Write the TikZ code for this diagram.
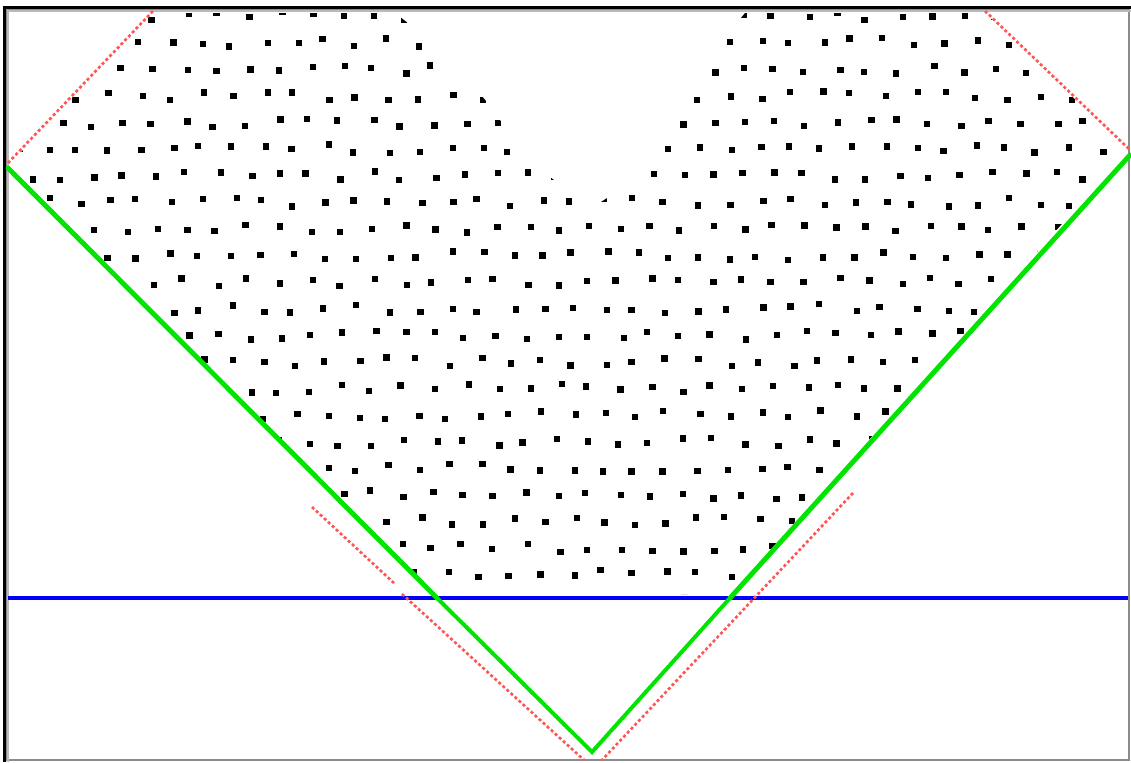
\documentclass[tikz,border=0pt]{standalone}
\usetikzlibrary{calc}
\definecolor{lineaverde}{RGB}{0,228,0}
\definecolor{lineaazul}{RGB}{0,0,250}
\definecolor{linearoja}{RGB}{255,85,85}
\definecolor{marcogris}{RGB}{140,140,140}

\begin{document}
\begin{tikzpicture}[x=0.02cm,y=-0.02cm,
  verdegrueso/.style={draw=lineaverde, line width=2.8pt, line cap=round},
  verdefino/.style={draw=lineaverde, line width=2.3pt, line cap=round, dash pattern=on 1.6pt off 0.7pt},
  azul/.style={draw=lineaazul, line width=2.2pt},
  roja/.style={draw=linearoja, line width=1.5pt, dash pattern=on 1.7pt off 1.4pt},
  punto/.style={fill=black}]

\useasboundingbox (0,0) rectangle (1131,762);

% marco
\draw[marcogris, line width=0.6pt] (6,9) rectangle (1129,760);
\draw[marcogris!60, line width=0.9pt] (8,762) -- (8,11) -- (1131,11);
\draw[black, line width=2.1pt] (4.5,762) -- (4.5,7.5) -- (1131,7.5);

% puntos de la red
\begin{scope}
  \clip (8,166) -- (152,13) -- (395,13) -- (445,52) -- (472,85) -- (494,110)
        -- (512,140) -- (540,170) -- (568,190) -- (595,206) -- (610,196)
        -- (626,178) -- (643,158) -- (660,130) -- (668,108) -- (692,80)
        -- (718,46) -- (745,13) -- (985,13) -- (1128,150) -- (731,594)
        -- (437,594) -- cycle;
  \pgfmathsetseed{17}
  \foreach \r in {0,...,22}{
    \foreach \c in {0,...,37}{
      \pgfmathsetmacro{\px}{\c*31 + mod(\r,2)*15.5 + 4.5*rand}
      \pgfmathsetmacro{\py}{16 + \r*26.6 + 4.5*rand}
      \fill[punto] (\px,\py) +(-3.2,-3.2) rectangle +(3.2,3.2);
    }
  }
\end{scope}

% puntos de referencia
\coordinate (gIzq) at (8,168);
\coordinate (gCorteIzq) at (437,598);
\coordinate (gVertice) at (592,752);
\coordinate (gCorteDer) at (730,598);
\coordinate (gDer) at (1130,155);
\coordinate (bIzq) at (8,598);
\coordinate (bDer) at (1128,598);

\coordinate (rSupIzqA) at (8,163);
\coordinate (rSupIzqB) at (153,11);
\coordinate (rSupDerA) at (985,11);
\coordinate (rSupDerB) at (1130,150);
\coordinate (rInfIzqA) at (312,507);
\coordinate (rInfIzqB) at (395,584);
\coordinate (rInfIzqC) at (402,594);
\coordinate (rInfIzqD) at (584,760);
\coordinate (rInfDerA) at (853,493);
\coordinate (rInfDerB) at (602,760);

\draw[azul] (bIzq) -- (bDer);

\draw[roja] (rSupIzqA) -- (rSupIzqB);
\draw[roja] (rSupDerA) -- (rSupDerB);
\draw[roja] (rInfIzqA) -- (rInfIzqB);
\draw[roja] (rInfIzqC) -- (rInfIzqD);
\draw[roja] (rInfDerA) -- (rInfDerB);

\draw[verdegrueso] (gIzq) -- (gCorteIzq);
\draw[verdegrueso] (gCorteDer) -- (gDer);
\draw[verdefino] (gCorteIzq) -- (gVertice) -- (gCorteDer);

\end{tikzpicture}
\end{document}
